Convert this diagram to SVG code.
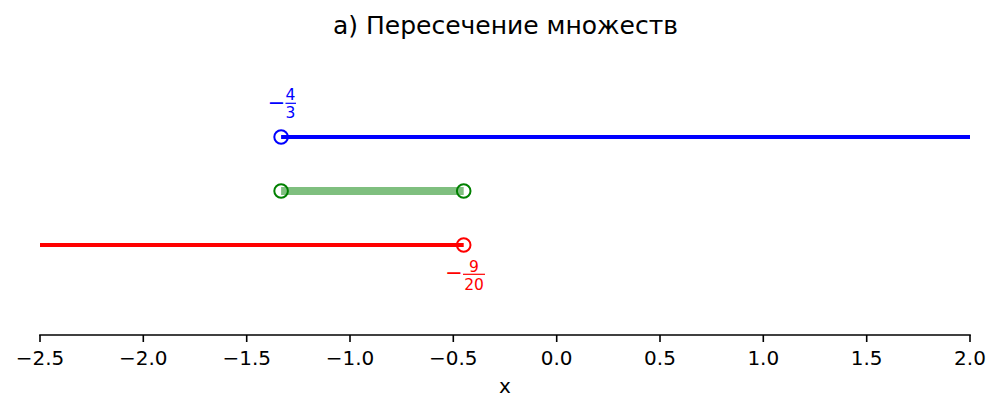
<svg xmlns="http://www.w3.org/2000/svg" width="1001" height="413" viewBox="0 0 1001 413">
<style>
text{font-family:"DejaVu Sans",sans-serif}
.tick{font-size:20px;fill:#000;text-anchor:middle}
.tk{stroke:#000;stroke-width:1.6}
.frac{font-size:15.5px;text-anchor:middle}
.mk{fill:none;stroke-width:2}
</style>
<rect width="1001" height="413" fill="#fff"/>
<text x="505.5" y="34" font-size="25" text-anchor="middle">а) Пересечение множеств</text>
<g id="connectors">
<line x1="281.1" y1="137" x2="970" y2="137" stroke="#0000ff" stroke-width="4"/>
<line x1="281.1" y1="191" x2="463.7" y2="191" stroke="#008000" stroke-opacity="0.5" stroke-width="8"/>
<line x1="40" y1="245" x2="463.7" y2="245" stroke="#ff0000" stroke-width="4"/>
</g>
<g id="node-blue">
<circle class="mk" cx="281.1" cy="137" r="6.8" stroke="#0000ff"/>
<text x="276.5" y="109.5" font-size="21" fill="#0000ff" text-anchor="middle">−</text>
<text class="frac" x="290.5" y="100" fill="#0000ff">4</text>
<line x1="285.5" y1="103.3" x2="296" y2="103.3" stroke="#0000ff" stroke-width="1.2"/>
<text class="frac" x="290.5" y="118" fill="#0000ff">3</text>
</g>
<g id="node-green">
<circle class="mk" cx="281.1" cy="191" r="6.8" stroke="#008000"/>
<circle class="mk" cx="463.7" cy="191" r="6.8" stroke="#008000"/>
</g>
<g id="node-red">
<circle class="mk" cx="463.7" cy="245" r="6.8" stroke="#ff0000"/>
<text x="454" y="279.5" font-size="21" fill="#ff0000" text-anchor="middle">−</text>
<text class="frac" x="474" y="272" fill="#ff0000">9</text>
<line x1="463" y1="274.3" x2="485" y2="274.3" stroke="#ff0000" stroke-width="1.2"/>
<text class="frac" x="474" y="290" fill="#ff0000">20</text>
</g>
<g id="axis">
<line x1="39.2" y1="335" x2="970.8" y2="335" stroke="#000" stroke-width="1.6"/>
<g class="tk">
<line x1="40" y1="335" x2="40" y2="342"/>
<line x1="143.3" y1="335" x2="143.3" y2="342"/>
<line x1="246.7" y1="335" x2="246.7" y2="342"/>
<line x1="350" y1="335" x2="350" y2="342"/>
<line x1="453.3" y1="335" x2="453.3" y2="342"/>
<line x1="556.7" y1="335" x2="556.7" y2="342"/>
<line x1="660" y1="335" x2="660" y2="342"/>
<line x1="763.3" y1="335" x2="763.3" y2="342"/>
<line x1="866.7" y1="335" x2="866.7" y2="342"/>
<line x1="970" y1="335" x2="970" y2="342"/>
</g>
<text class="tick" x="40" y="365">−2.5</text>
<text class="tick" x="143.3" y="365">−2.0</text>
<text class="tick" x="246.7" y="365">−1.5</text>
<text class="tick" x="350" y="365">−1.0</text>
<text class="tick" x="453.3" y="365">−0.5</text>
<text class="tick" x="556.7" y="365">0.0</text>
<text class="tick" x="660" y="365">0.5</text>
<text class="tick" x="763.3" y="365">1.0</text>
<text class="tick" x="866.7" y="365">1.5</text>
<text class="tick" x="970" y="365">2.0</text>
<text class="tick" x="505" y="393">x</text>
</g>
</svg>
